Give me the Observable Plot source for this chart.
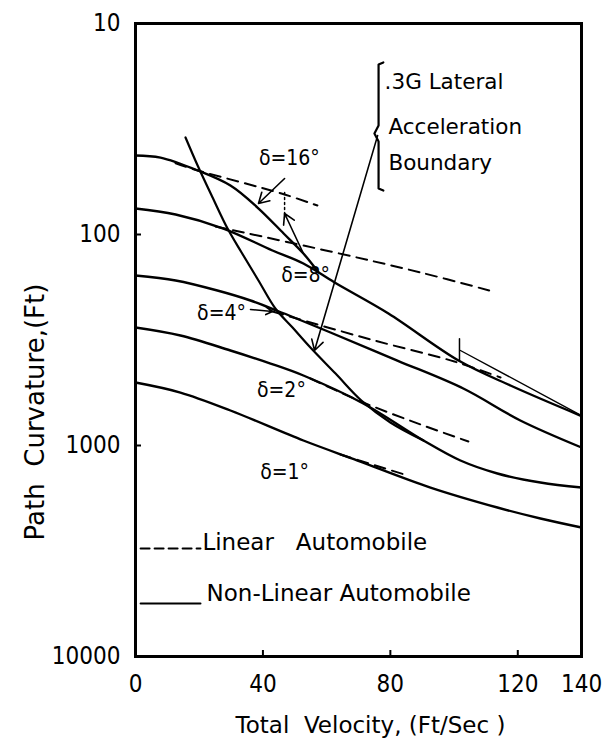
<!DOCTYPE html>
<html><head><meta charset="utf-8">
<script src="https://cdn.jsdelivr.net/npm/d3@7"></script>
<script src="https://cdn.jsdelivr.net/npm/@observablehq/plot@0.6"></script>
<style>body{margin:0;background:#fff;} #chart svg{display:block;}</style>
</head><body><div id="chart"></div>
<script>
// Axis ticks
const xTicks = [0, 40, 80, 120, 140];
const yTicks = [10, 100, 1000, 10000];

// Non-linear automobile (solid): [velocity ft/s, path curvature ft]
const nonlin16 = [[0,42.2],[7.85,43.2],[19.5,49.7],[29.8,58.6],[38.3,74.5],[46.5,98.9],[52.7,123],[57.4,151]];
const nonlin8  = [[0,75.3],[12.6,80.4],[27.6,93.7],[43.0,119.1],[52.7,137.2],[62.5,168.9],[79.4,236.8],[101.4,395.6],[117.7,519.6],[140,725]];
const nonlin4  = [[0,156.4],[12.6,165.2],[25.7,184.3],[36.1,205.5],[44.3,229.2],[61.2,291.4],[82.2,395.6],[102.9,537],[120.8,761],[140,1022]];
const nonlin2  = [[0,276],[14.1,301.1],[29.8,354.6],[42.4,408.8],[52.7,465.9],[71.5,632.3],[90.4,946.9],[102,1178],[113.6,1357],[127.1,1498],[140,1582]];
const nonlin1  = [[0,502.9],[14.1,561],[29.8,682.5],[52.7,946.9],[69.7,1178],[92.6,1582],[113.6,1967],[127.1,2218],[140,2447]];

// Linear automobile (dashed)
const lin16 = [[12.6,46],[19.5,49.7],[45.8,63.9],[57.1,72.9]];
const lin8  = [[25.1,91.6],[61.2,120.4],[89.5,151.4],[111.1,184.3]];
const lin4  = [[43.0,231.7],[73.8,314.5],[100.1,399.9],[114.6,476.2]];
const lin2  = [[54.9,481.4],[71.5,625.4],[89.5,795.2],[104.5,957.2]];
const lin1  = [[64.3,1103],[75.3,1244],[85.4,1387]];

// .3G lateral acceleration boundary
const boundary = [[15.7,34.7],[19.5,47.1],[24.2,66.8],[28.9,93.7],[33.3,121.7],[38.6,165.2],[43.9,224.2],[49.3,276],[54.9,343.2],[62.8,456],[70.9,611.9],[80.0,778],[90.4,946.9]];

// Annotation strokes
const bracket = [[77.8,15.3],[76.3,15.65],[76.3,30.4],[75.0,33.2],[76.3,36.2],[76.3,60.5],[77.8,61.9]];
const dottedMark = [[46.8,63.2],[46.8,83.1]];
const tickMark = [[101.7,312],[101.7,396]];
const thinLine = [[102,354.6],[140,721]];
const arrows = [
  {x1:46.8, y1:54.3, x2:38.6, y2:71.3},   // δ=16° pointer
  {x1:52.7, y1:123, x2:46.8, y2:79.5},    // small up arrow
  {x1:76.0, y1:34.0, x2:56.2, y2:354.6},  // boundary pointer
  {x1:36.1, y1:226.6, x2:43.0, y2:231.7}  // δ=4° pointer
];

// Labels
const deltaText = ["δ=16°","δ=8°","δ=4°","δ=2°","δ=1°"];
const deltaV = [48.3, 53.4, 27.0, 45.8, 46.8];
const deltaR = [43.6, 156.4, 236.8, 548.8, 1343];
const boundaryText = [".3G Lateral","Acceleration","Boundary"];
const boundaryV = [78.2, 79.4, 79.4];
const boundaryR = [19.0, 31.1, 46.1];
const legendText = ["Linear   Automobile","Non-Linear Automobile"];
const legendTextV = [21.0, 22.3];
const legendTextR = [2883, 5028];
const legendLinV = [[1.6,20.4]];
const legendLinR = 3077;
const legendNonR = 5608;

const toRows = (arr, s) => arr.map(([v, r]) => ({v, r, s}));
const nonlinRows = [
  ...toRows(nonlin16,"16"),...toRows(nonlin8,"8"),...toRows(nonlin4,"4"),...toRows(nonlin2,"2"),...toRows(nonlin1,"1")];
const linRows = [
  ...toRows(lin16,"16"),...toRows(lin8,"8"),...toRows(lin4,"4"),...toRows(lin2,"2"),...toRows(lin1,"1")];
const deltaRows = deltaText.map((t,i)=>({t, v:deltaV[i], r:deltaR[i]}));
const bRows = boundaryText.map((t,i)=>({t, v:boundaryV[i], r:boundaryR[i]}));
const legRows = legendText.map((t,i)=>({t, v:legendTextV[i], r:legendTextR[i]}));
const legLin = [{v:legendLinV[0][0], r:legendLinR},{v:legendLinV[0][1], r:legendLinR}];
const legNon = [{v:legendLinV[0][0], r:legendNonR},{v:legendLinV[0][1], r:legendNonR}];

const FONT = "'DejaVu Sans Condensed', 'DejaVu Sans', sans-serif";
const FONT2 = "'DejaVu Sans', sans-serif";

const chart = Plot.plot({
  width: 613,
  height: 750,
  marginLeft: 135,
  marginRight: 32,
  marginTop: 23,
  marginBottom: 94,
  style: {fontFamily: FONT, fontSize: "24px", color: "#000", background: "#fff"},
  x: {domain: [0, 140]},
  y: {type: "log", domain: [10, 10000], reverse: true},
  marks: [
    Plot.axisX({ticks: xTicks, tickSize: -6, tickPadding: 24, label: null, tickFormat: d => String(d), strokeWidth: 2}),
    Plot.axisY({ticks: yTicks, tickSize: -6, tickPadding: 21, label: null, tickFormat: d => String(d), strokeWidth: 2}),
    Plot.line(nonlinRows, {x: "v", y: "r", z: "s", curve: "catmull-rom", stroke: "#000", strokeWidth: 2.4}),
    Plot.line(linRows, {x: "v", y: "r", z: "s", curve: "catmull-rom", stroke: "#000", strokeWidth: 2, strokeDasharray: "11,7"}),
    Plot.line(toRows(boundary,"b"), {x: "v", y: "r", curve: "catmull-rom", stroke: "#000", strokeWidth: 2.2}),
    Plot.line(toRows(bracket,"k"), {x: "v", y: "r", stroke: "#000", strokeWidth: 2.2}),
    Plot.line(toRows(dottedMark,"d"), {x: "v", y: "r", stroke: "#000", strokeWidth: 1.5, strokeDasharray: "2,3"}),
    Plot.line(toRows(tickMark,"t"), {x: "v", y: "r", stroke: "#000", strokeWidth: 1.5}),
    Plot.line(toRows(thinLine,"l"), {x: "v", y: "r", stroke: "#000", strokeWidth: 1.4}),
    Plot.arrow(arrows, {x1: "x1", y1: "y1", x2: "x2", y2: "y2", stroke: "#000", strokeWidth: 1.6, headLength: 11}),
    Plot.text(deltaRows, {x: "v", y: "r", text: "t", fontSize: 21, fill: "#000"}),
    Plot.text(bRows, {x: "v", y: "r", text: "t", fontSize: 21.5, fontFamily: FONT2, textAnchor: "start", fill: "#000"}),
    Plot.text(legRows, {x: "v", y: "r", text: "t", fontSize: 23, fontFamily: FONT2, textAnchor: "start", fill: "#000"}),
    Plot.line(legLin, {x: "v", y: "r", stroke: "#000", strokeWidth: 2, strokeDasharray: "9,5"}),
    Plot.line(legNon, {x: "v", y: "r", stroke: "#000", strokeWidth: 2}),
    Plot.text(["Total  Velocity, (Ft/Sec )"], {frameAnchor: "bottom", textAnchor: "middle", lineAnchor: "middle", dx: 12, dy: 69, fontSize: 23, fontFamily: FONT2, fill: "#000"}),
    Plot.text(["Path  Curvature,(Ft)"], {frameAnchor: "left", textAnchor: "middle", lineAnchor: "middle", dx: -100, dy: 72, rotate: -90, fontSize: 26, fontFamily: FONT2, fill: "#000"}),
    Plot.frame({stroke: "#000", strokeWidth: 3})
  ]
});
document.getElementById("chart").append(chart);
</script>
</body></html>
